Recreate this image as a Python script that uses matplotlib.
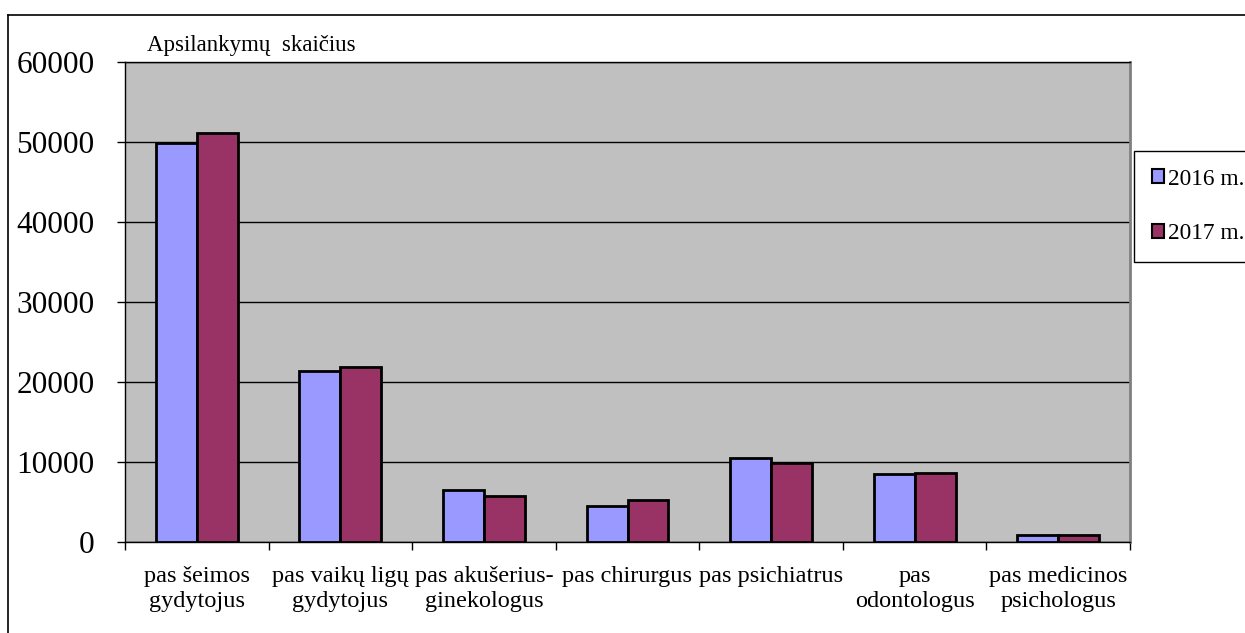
# Apsilankymų skaičius pagal gydytojus, 2016 ir 2017 m.
import numpy as np
import matplotlib.pyplot as plt
from matplotlib.patches import Patch
from matplotlib.lines import Line2D

# Duomenys
categories = ["pas šeimos\ngydytojus", "pas vaikų ligų\ngydytojus", "pas akušerius-\nginekologus",
              "pas chirurgus", "pas psichiatrus", "pas\nodontologus", "pas medicinos\npsichologus"]
visits_2016 = [49875, 21325, 6550, 4550, 10550, 8460, 875]
visits_2017 = [51125, 21825, 5750, 5210, 9875, 8625, 875]
series_labels = ["2016 m.", "2017 m."]
y_ticks = [0, 10000, 20000, 30000, 40000, 50000, 60000]

plt.rcParams['font.family'] = ['Liberation Serif', 'DejaVu Serif']

W, H = 1245, 633
fig = plt.figure(figsize=(W / 100, H / 100), dpi=100)
ax = fig.add_axes([125 / W, 1 - 542 / H, (1130 - 125) / W, (542 - 62) / H])
ax.set_facecolor('#C0C0C0')

x = np.arange(len(categories))
bar_w = 0.285
ax.bar(x - bar_w / 2, visits_2016, bar_w, color='#9999FF', edgecolor='black', linewidth=2.0, zorder=3)
ax.bar(x + bar_w / 2, visits_2017, bar_w, color='#993366', edgecolor='black', linewidth=2.0, zorder=3)

ax.set_xlim(-0.5, len(categories) - 0.5)
ax.set_ylim(0, 60000)
ax.set_yticks(y_ticks)
ax.set_yticklabels([str(v) for v in y_ticks], fontsize=22.5)
ax.tick_params(axis='y', direction='out', length=6, width=1, pad=16)

# kategorijų ribos kaip varnelės, pavadinimai per vidurį
ax.set_xticks(np.arange(len(categories) + 1) - 0.5)
ax.set_xticklabels([])
ax.tick_params(axis='x', direction='out', length=6, width=1)
ax.set_xticks(x, minor=True)
ax.set_xticklabels(categories, minor=True, fontsize=17.5, linespacing=1.25)
ax.tick_params(axis='x', which='minor', length=0, pad=17)

ax.grid(axis='y', color='black', linewidth=1, zorder=1)
ax.set_axisbelow(True)
for s in ['left', 'bottom', 'top']:
    ax.spines[s].set_color('black')
    ax.spines[s].set_linewidth(1)
ax.spines['right'].set_color('#808080')
ax.spines['right'].set_linewidth(2)

fig.text(147 / W, 1 - 46 / H, "Apsilankymų  skaičius", fontsize=16.5, va='center', ha='left')

handles = [Patch(facecolor='#9999FF', edgecolor='black', linewidth=1.5),
           Patch(facecolor='#993366', edgecolor='black', linewidth=1.5)]
leg = fig.legend(handles, series_labels, loc='upper left', bbox_to_anchor=(1134 / W, 1 - 151 / H),
                 borderaxespad=0, fontsize=16.8, handlelength=0.55, handleheight=0.55,
                 handletextpad=0.15, labelspacing=1.45, borderpad=0.75, fancybox=False, framealpha=1)
leg.get_frame().set_edgecolor('black')
leg.get_frame().set_linewidth(1)

# rėmelis aplink diagramą
fig.add_artist(Line2D([8 / W, 8 / W], [0, 1 - 15 / H], color='black', linewidth=1.2))
fig.add_artist(Line2D([8 / W, 1], [1 - 15 / H, 1 - 15 / H], color='black', linewidth=1.2))

fig.savefig("out.png", dpi=100)
